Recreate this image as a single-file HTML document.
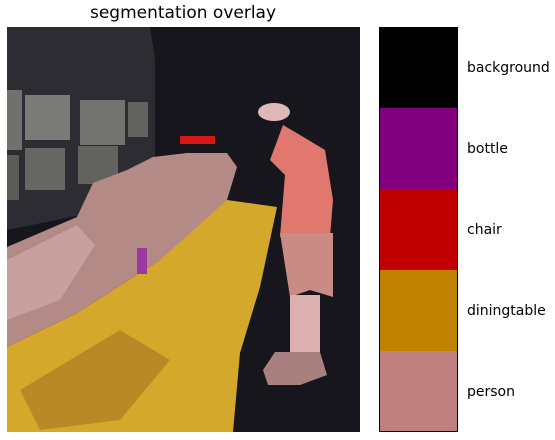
<!DOCTYPE html>
<html><head><meta charset="utf-8"><style>
html,body{margin:0;padding:0;background:#fff;width:555px;height:440px;overflow:hidden;font-family:"DejaVu Sans","Liberation Sans",sans-serif}
</style></head><body>
<svg width="555" height="440">
<text x="183" y="18" text-anchor="middle" font-size="17" fill="#000">segmentation overlay</text>
<g>
<rect x="7" y="27" width="353" height="405" fill="#16161c"/>
<polygon points="7,27 150,27 155,60 155,200 7,230" fill="#2c2c32"/>
<rect x="7" y="90" width="15" height="60" fill="#70706c"/>
<rect x="25" y="95" width="45" height="45" fill="#7a7a76"/>
<rect x="80" y="100" width="45" height="45" fill="#72726e"/>
<rect x="128" y="102" width="20" height="35" fill="#626260"/>
<rect x="25" y="148" width="40" height="42" fill="#666662"/>
<rect x="78" y="146" width="40" height="38" fill="#62625e"/>
<rect x="7" y="155" width="12" height="45" fill="#5a5a56"/>
<rect x="180" y="136" width="35" height="8" fill="#d81818"/>
<polygon points="7,347 77,313 160,260 200,220 227,200 277,207 260,287 240,353 233,432 7,432" fill="#d4a82a"/>
<polygon points="20,390 120,330 170,360 120,420 40,430" fill="#b88a26"/>
<polygon points="7,247 77,217 93,183 127,170 153,157 187,153 227,153 237,167 227,200 160,260 77,313 7,347" fill="#b48a86"/>
<polygon points="7,260 77,225 95,245 60,300 7,320" fill="#c8a0a0"/>
<rect x="137" y="248" width="10" height="26" fill="#9a3aa0"/>
<ellipse cx="274" cy="112" rx="16" ry="9" fill="#e0b8b8"/>
<polygon points="283,125 300,135 325,150 333,200 330,237 280,237 285,175 270,160" fill="#e07870"/>
<polygon points="280,233 333,233 333,297 310,290 290,297" fill="#c88c84"/>
<rect x="290" y="295" width="30" height="58" fill="#dcb0b0"/>
<polygon points="263,370 275,352 320,352 327,375 300,385 268,385" fill="#a88080"/>
</g>
<g>
<rect x="379" y="27" width="79" height="81" fill="#000000"/>
<rect x="379" y="108" width="79" height="81" fill="#800080"/>
<rect x="379" y="189" width="79" height="81" fill="#c00000"/>
<rect x="379" y="270" width="79" height="81" fill="#c08000"/>
<rect x="379" y="351" width="79" height="81" fill="#c08080"/>
<rect x="379.5" y="27.5" width="78" height="404" fill="none" stroke="#000" stroke-width="1"/>
</g>
<g font-size="14" fill="#000">
<text x="467" y="72">background</text>
<text x="467" y="153">bottle</text>
<text x="467" y="234">chair</text>
<text x="467" y="315">diningtable</text>
<text x="467" y="396">person</text>
</g>
</svg>
</body></html>
